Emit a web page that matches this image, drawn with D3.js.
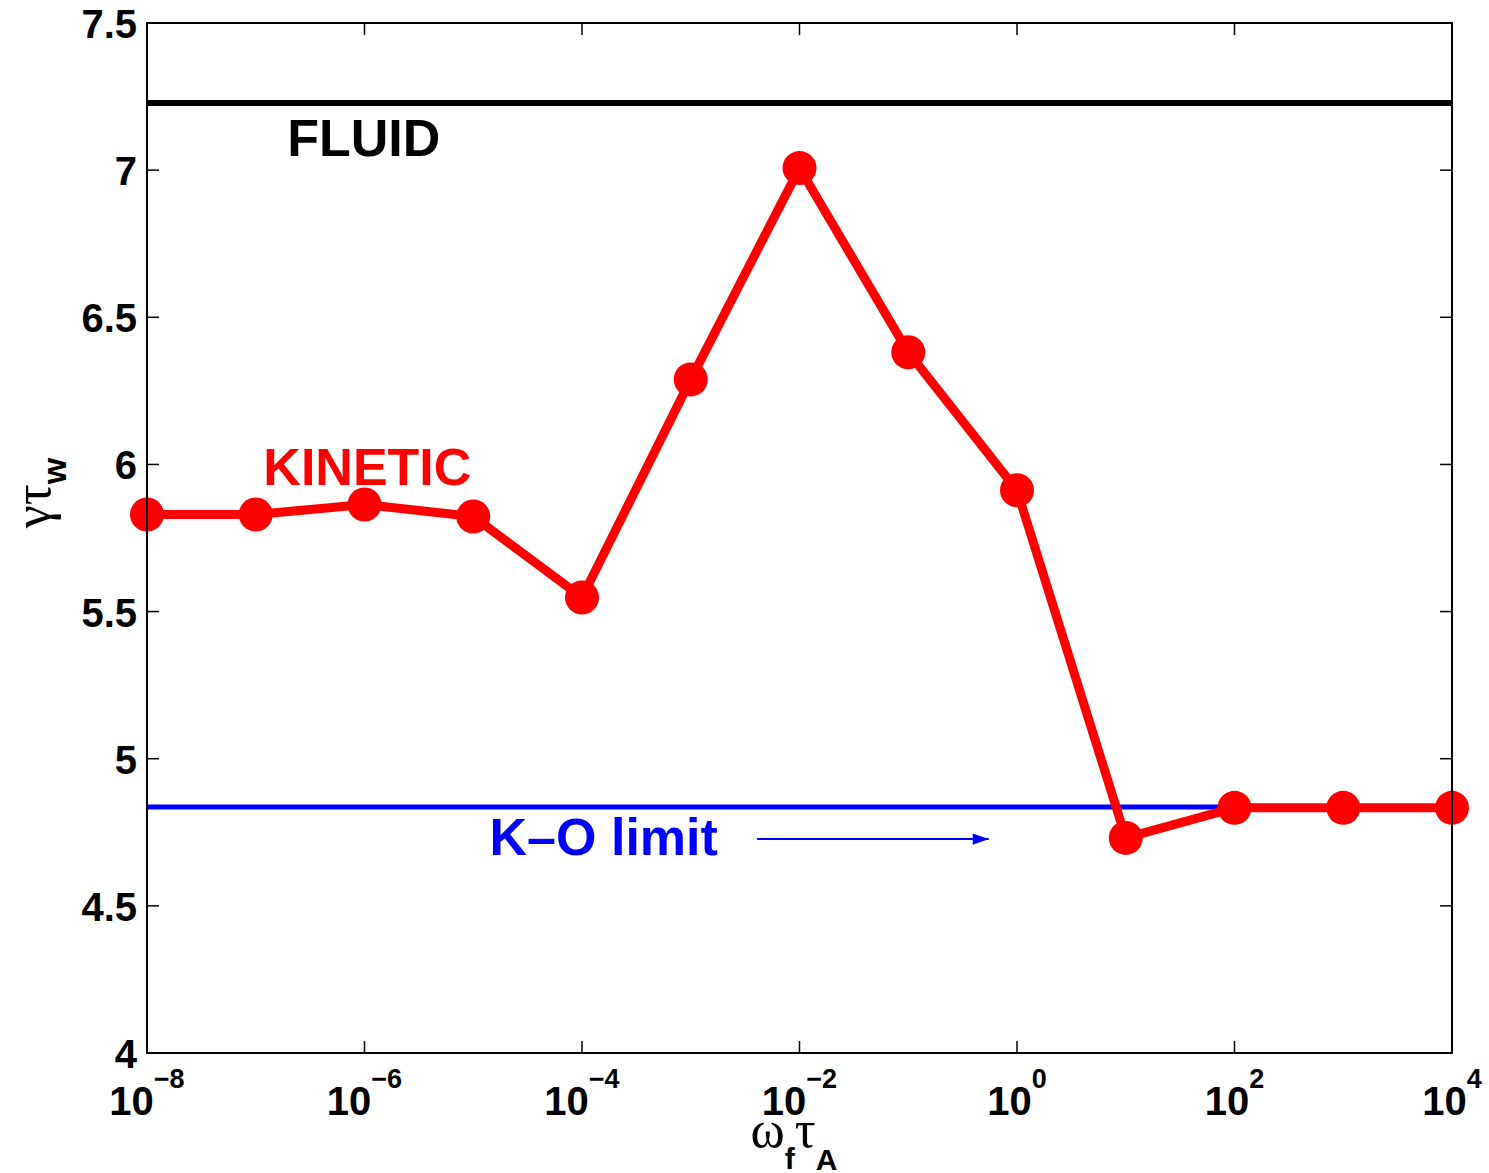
<!DOCTYPE html>
<html>
<head>
<meta charset="utf-8">
<script src="https://cdn.jsdelivr.net/npm/d3@7"></script>
<style>
    body { margin: 0; background: #fff; }
    svg { display: block; }
    .tick-label { font-family: "Liberation Sans", Arial, sans-serif; font-weight: bold; fill: #000; }
    .greek { font-family: "Liberation Serif", "Times New Roman", serif; }
    .sub { font-family: "Liberation Sans", Arial, sans-serif; font-weight: bold; }
</style>
</head>
<body>
<svg id="chart" width="1489" height="1173"></svg>
<script>
/* data */
const exponents = [-8, -7, -6, -5, -4, -3, -2, -1, 0, 1, 2, 3, 4];
const kineticGamma = [5.83, 5.83, 5.864, 5.823, 5.548, 6.289, 7.007, 6.381, 5.912, 4.731, 4.833, 4.833, 4.833];
const fluidGamma = 7.228;
const koLimit = 4.836;
const koLimitEnd = 2; // K-O line stops at 10^2
const yTicks = [4, 4.5, 5, 5.5, 6, 6.5, 7, 7.5];
const xTickExps = [-8, -6, -4, -2, 0, 2, 4];
// text labels, position in data units (exponent, value)
const labels = [
    {text: 'FLUID', e: -6.71, v: 7.048, color: '#000'},
    {text: 'KINETIC', e: -6.93, v: 5.93, color: '#ff0000'},
    {text: 'K\u2013O limit', e: -4.85, v: 4.673, color: '#0000ff'}
];
const arrow = {e0: -2.39, e1: -0.26, v: 4.727};

/* layout */
const margin = {left: 147, right: 37, top: 23, bottom: 120};
const width = 1489, height = 1173;
const svg = d3.select('#chart');

const x = d3.scaleLog().domain([1e-8, 1e4]).range([margin.left, width - margin.right]);
const y = d3.scaleLinear().domain([4, 7.5]).range([height - margin.bottom, margin.top]);
const ex = e => x(Math.pow(10, e));

const plot = svg.append('g');

// defs for the arrow head
svg.append('defs').append('marker')
    .attr('id', 'head').attr('viewBox', '0 0 10 10')
    .attr('refX', 10).attr('refY', 5)
    .attr('markerWidth', 20).attr('markerHeight', 16)
    .attr('markerUnits', 'userSpaceOnUse').attr('orient', 'auto')
    .append('path').attr('d', 'M0,1.5L10,5L0,8.5Z').attr('fill', '#0000ff');

// fluid line
plot.append('line')
    .attr('x1', x.range()[0]).attr('x2', x.range()[1])
    .attr('y1', y(fluidGamma)).attr('y2', y(fluidGamma))
    .attr('stroke', '#000').attr('stroke-width', 6);

// K-O limit
plot.append('line')
    .attr('x1', ex(-8)).attr('x2', ex(koLimitEnd))
    .attr('y1', y(koLimit)).attr('y2', y(koLimit))
    .attr('stroke', '#0000ff').attr('stroke-width', 5);

plot.append('line')
    .attr('x1', ex(arrow.e0)).attr('x2', ex(arrow.e1))
    .attr('y1', y(arrow.v)).attr('y2', y(arrow.v))
    .attr('stroke', '#0000ff').attr('stroke-width', 2)
    .attr('marker-end', 'url(#head)');

// kinetic curve
const pts = exponents.map((e, i) => ({e: e, v: kineticGamma[i]}));
const line = d3.line().x(d => ex(d.e)).y(d => y(d.v));
plot.append('path').datum(pts)
    .attr('d', line).attr('fill', 'none')
    .attr('stroke', '#ff0000').attr('stroke-width', 9).attr('stroke-linejoin', 'round');
plot.selectAll('circle.pt').data(pts).enter().append('circle')
    .attr('class', 'pt')
    .attr('cx', d => ex(d.e)).attr('cy', d => y(d.v)).attr('r', 17)
    .attr('fill', '#ff0000');

// annotations
plot.selectAll('text.lab').data(labels).enter().append('text')
    .attr('class', 'tick-label lab')
    .attr('x', d => ex(d.e)).attr('y', d => y(d.v))
    .style('font-size', '52px').style('fill', d => d.color)
    .text(d => d.text);

/* axes box */
const x0 = x.range()[0], x1 = x.range()[1], y0 = y.range()[0], y1 = y.range()[1];
const box = svg.append('g').attr('stroke', '#000').attr('fill', 'none');
box.append('rect').attr('x', x0).attr('y', y1).attr('width', x1 - x0).attr('height', y0 - y1)
    .attr('stroke-width', 2);

const tl = 12;
xTickExps.forEach(e => {
    box.append('line').attr('x1', ex(e)).attr('x2', ex(e)).attr('y1', y0).attr('y2', y0 - tl).attr('stroke-width', 1.5);
    box.append('line').attr('x1', ex(e)).attr('x2', ex(e)).attr('y1', y1).attr('y2', y1 + tl).attr('stroke-width', 1.5);
});
yTicks.forEach(v => {
    box.append('line').attr('x1', x0).attr('x2', x0 + tl).attr('y1', y(v)).attr('y2', y(v)).attr('stroke-width', 1.5);
    box.append('line').attr('x1', x1).attr('x2', x1 - tl).attr('y1', y(v)).attr('y2', y(v)).attr('stroke-width', 1.5);
});

// y tick labels
svg.selectAll('text.ytick').data(yTicks).enter().append('text')
    .attr('class', 'tick-label ytick')
    .attr('x', x0 - 10).attr('y', d => y(d) + 15)
    .attr('text-anchor', 'end').style('font-size', '40px')
    .text(d => d3.format('')(d));

// x tick labels: 10 with superscript
const xt = svg.selectAll('text.xtick').data(xTickExps).enter().append('text')
    .attr('class', 'tick-label xtick')
    .attr('x', d => ex(d)).attr('y', y0 + 62)
    .attr('text-anchor', 'middle').style('font-size', '40px');
xt.append('tspan').text('10');
xt.append('tspan').attr('dy', -27).style('font-size', '27px')
    .text(d => (d < 0 ? '\u2212' : '') + Math.abs(d));

// x axis title
const xl = svg.append('text').attr('x', 794).attr('y', 1147)
    .attr('text-anchor', 'middle').attr('fill', '#000');
xl.append('tspan').attr('class', 'greek').style('font-size', '52px').text('\u03c9');
xl.append('tspan').attr('class', 'sub').attr('dy', 22).style('font-size', '30px').text('f');
xl.append('tspan').attr('class', 'greek').attr('dy', -22).style('font-size', '52px').text('\u03c4');
xl.append('tspan').attr('class', 'sub').attr('dy', 23).style('font-size', '30px').text('A');

// y axis title
const yl = svg.append('text')
    .attr('transform', 'translate(50,493) rotate(-90)')
    .attr('text-anchor', 'middle').attr('fill', '#000');
yl.append('tspan').attr('class', 'greek').style('font-size', '52px').text('\u03b3\u03c4');
yl.append('tspan').attr('class', 'sub').attr('dy', 16).style('font-size', '34px').text('w');
</script>
</body>
</html>
